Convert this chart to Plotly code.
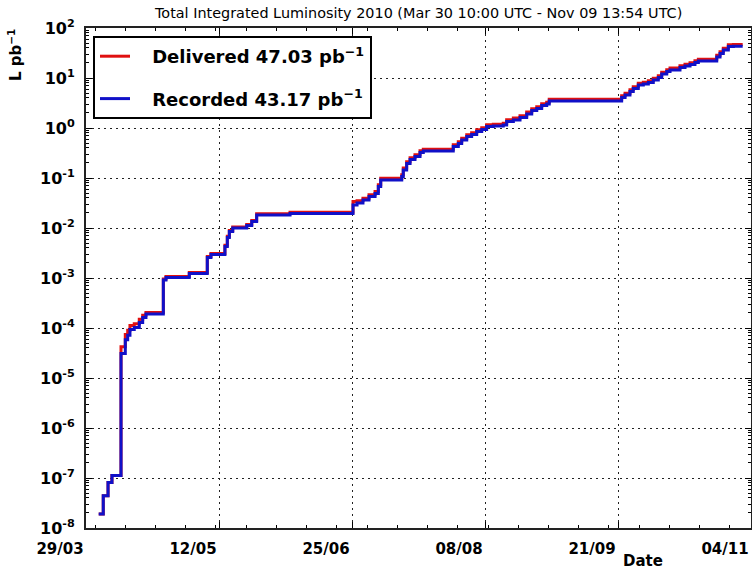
import plotly.graph_objects as go

# Step times (UTC) at which the integrated luminosity changes
dates = [
    "2010-04-02 05:00", "2010-04-03 17:00", "2010-04-05 07:00", "2010-04-06 14:00",
    "2010-04-09 14:00", "2010-04-11 00:00", "2010-04-11 19:00", "2010-04-12 13:00",
    "2010-04-13 23:00", "2010-04-15 15:00", "2010-04-16 18:00", "2010-04-17 20:00",
    "2010-04-23 14:00", "2010-04-24 11:00", "2010-05-02 04:00", "2010-05-08 03:00",
    "2010-05-09 08:00", "2010-05-13 23:00", "2010-05-14 18:00", "2010-05-15 10:00",
    "2010-05-16 13:00", "2010-05-21 04:00", "2010-05-22 20:00", "2010-05-24 11:00",
    "2010-06-04 12:00", "2010-06-25 08:00", "2010-06-26 16:00", "2010-06-28 15:00",
    "2010-06-30 15:00", "2010-07-02 15:00", "2010-07-03 17:00", "2010-07-04 12:00",
    "2010-07-11 11:00", "2010-07-11 23:00", "2010-07-13 02:00", "2010-07-14 05:00",
    "2010-07-15 20:00", "2010-07-17 12:00", "2010-07-18 14:00", "2010-07-28 12:00",
    "2010-07-30 04:00", "2010-07-31 07:00", "2010-08-01 23:00", "2010-08-03 14:00",
    "2010-08-05 06:00", "2010-08-06 22:00", "2010-08-08 13:00", "2010-08-10 18:00",
    "2010-08-14 01:00", "2010-08-15 04:00", "2010-08-17 09:00", "2010-08-19 14:00",
    "2010-08-21 19:00", "2010-08-23 11:00", "2010-08-25 03:00", "2010-08-26 18:00",
    "2010-08-28 10:00", "2010-08-29 06:00", "2010-09-22 05:00", "2010-09-23 08:00",
    "2010-09-24 23:00", "2010-09-26 01:00", "2010-09-27 17:00", "2010-09-29 09:00",
    "2010-10-01 01:00", "2010-10-02 16:00", "2010-10-04 08:00", "2010-10-05 11:00",
    "2010-10-07 03:00", "2010-10-08 05:00", "2010-10-11 12:00", "2010-10-13 04:00",
    "2010-10-14 20:00", "2010-10-16 11:00", "2010-10-17 14:00", "2010-10-23 16:00",
    "2010-10-24 18:00", "2010-10-25 20:00", "2010-10-27 12:00", "2010-10-29 04:00",
    "2010-11-01 06:00",
]

# Integrated luminosity, pb^-1
recorded = [
    1.9e-8, 4.4e-8, 8.1e-8, 1.12e-7,
    3.1e-5, 5.8e-5, 7.2e-5, 9.3e-5,
    1.02e-4, 1.29e-4, 1.62e-4, 1.9e-4,
    9.1e-4, 1.02e-3, 1.23e-3, 2.57e-3,
    2.95e-3, 4.27e-3, 6.46e-3, 8.5e-3,
    1.0e-2, 1.12e-2, 1.35e-2, 1.82e-2,
    1.95e-2, 2.88e-2, 3.16e-2, 3.63e-2,
    4.27e-2, 4.9e-2, 6.76e-2, 9.12e-2,
    0.107, 0.145, 0.195, 0.234,
    0.269, 0.324, 0.347, 0.427,
    0.49, 0.575, 0.676, 0.741,
    0.851, 0.933, 1.07, 1.10,
    1.15, 1.35, 1.45, 1.62,
    1.91, 2.24, 2.45, 2.82,
    3.02, 3.47, 4.07, 4.57,
    5.37, 6.17, 7.24, 7.59,
    8.13, 9.12, 10.2, 12.0,
    13.5, 14.5, 16.2, 17.4,
    18.6, 20.4, 21.9, 26.3,
    30.9, 36.3, 42.7, 43.17,
    43.17,
]

delivered = [
    1.9e-8, 4.4e-8, 8.1e-8, 1.12e-7,
    4.2e-5, 7.4e-5, 9.0e-5, 1.12e-4,
    1.22e-4, 1.5e-4, 1.8e-4, 2.05e-4,
    9.6e-4, 1.07e-3, 1.29e-3, 2.7e-3,
    3.1e-3, 4.5e-3, 6.8e-3, 8.9e-3,
    1.05e-2, 1.18e-2, 1.42e-2, 1.92e-2,
    2.06e-2, 3.4e-2, 3.5e-2, 3.95e-2,
    4.65e-2, 5.35e-2, 7.35e-2, 9.9e-2,
    0.116, 0.158, 0.212, 0.254,
    0.292, 0.352, 0.377, 0.465,
    0.533, 0.625, 0.735, 0.805,
    0.925, 1.01, 1.16, 1.19,
    1.25, 1.47, 1.58, 1.76,
    2.08, 2.44, 2.67, 3.07,
    3.29, 3.78, 4.43, 4.97,
    5.84, 6.71, 7.87, 8.26,
    8.85, 9.93, 11.1, 13.1,
    14.7, 15.8, 17.6, 18.9,
    20.2, 22.2, 23.8, 28.6,
    33.6, 39.5, 46.5, 47.03,
    47.03,
]

x_tick_dates = ["2010-03-29", "2010-05-12", "2010-06-25", "2010-08-08", "2010-09-21", "2010-11-04"]
x_tick_labels = ["29/03", "12/05", "25/06", "08/08", "21/09", "04/11"]
y_exponents = [-8, -7, -6, -5, -4, -3, -2, -1, 0, 1, 2]

title_text = "Total Integrated Luminosity 2010 (Mar 30 10:00 UTC - Nov 09 13:54 UTC)"
delivered_label = "Delivered 47.03 pb<sup>−1</sup>"
recorded_label = "Recorded 43.17 pb<sup>−1</sup>"

FONT = "DejaVu Sans"
NB = "\u00a0\u00a0\u00a0"

W, H = 752, 571
ML, MR, MT, MB = 86, 1, 28, 43
PW = W - ML - MR
PH = H - MT - MB


def px_to_paper(px, py):
    return (px - ML) / PW, 1 - (py - MT) / PH


fig = go.Figure()
fig.add_trace(go.Scatter(
    x=dates, y=delivered, mode="lines", line=dict(color="#e01010", width=3, shape="hv"),
    name=NB + "<b>" + delivered_label + "</b>", legendgroup="d",
))
fig.add_trace(go.Scatter(
    x=dates, y=recorded, mode="lines", line=dict(color="#1010c8", width=3, shape="hv"),
    name=NB + "<b>" + recorded_label + "</b>", legendgroup="r",
))

yvals = [10.0 ** e for e in y_exponents]
ytext = ["<b>10<sup>%d</sup></b>" % e for e in y_exponents]
yminor = [m * 10.0 ** e for e in y_exponents[:-1] for m in range(2, 10)]

grid_dash = "2px,4px"

tx, ty = px_to_paper(418, 13)
lx, ly = px_to_paper(15, 55)
dx, dy = px_to_paper(643, 561)
gx, gy = px_to_paper(93, 36)

fig.update_layout(
    width=W, height=H,
    margin=dict(l=ML, r=MR, t=MT, b=MB, pad=0),
    paper_bgcolor="white", plot_bgcolor="white",
    font=dict(family=FONT, color="black"),
    showlegend=True,
    legend=dict(
        x=gx, y=gy, xanchor="left", yanchor="top",
        bgcolor="white", bordercolor="black", borderwidth=2,
        font=dict(family=FONT, size=18, color="black"),
        traceorder="grouped", tracegroupgap=16,
    ),
    annotations=[
        dict(text=title_text, x=tx, y=ty, xref="paper", yref="paper", showarrow=False,
             xanchor="center", yanchor="middle",
             font=dict(family=FONT, size=14.4, color="black")),
        dict(text="<b>L pb<sup>−1</sup></b>", x=lx, y=ly, xref="paper", yref="paper",
             textangle=-90, showarrow=False, xanchor="center", yanchor="middle",
             font=dict(family=FONT, size=15, color="black")),
        dict(text="<b>Date</b>", x=dx, y=dy, xref="paper", yref="paper", showarrow=False,
             xanchor="center", yanchor="middle",
             font=dict(family=FONT, size=15, color="black")),
    ],
)

fig.update_xaxes(
    type="date", range=["2010-03-29", "2010-11-04"], automargin=False,
    tickmode="array", tickvals=x_tick_dates, ticktext=["<b>%s</b>" % t for t in x_tick_labels],
    tickfont=dict(family=FONT, size=15, color="black"),
    ticks="inside", ticklen=6, tickwidth=1, tickcolor="black",
    showline=True, linecolor="#222222", linewidth=2, mirror="ticks",
    showgrid=True, gridcolor="#222222", gridwidth=1, griddash=grid_dash,
    ticklabelshift=-26, ticklabelstandoff=6,
    minor=dict(ticks="inside", ticklen=3, tickcolor="black", dtick=10 * 86400000,
               tick0="2010-04-01", showgrid=False),
    zeroline=False,
)
fig.update_yaxes(
    type="log", range=[-8, 2], automargin=False,
    tickmode="array", tickvals=yvals, ticktext=ytext,
    tickfont=dict(family=FONT, size=16, color="black"),
    ticks="inside", ticklen=6, tickwidth=1, tickcolor="black",
    showline=True, linecolor="#222222", linewidth=2, mirror="ticks",
    showgrid=True, gridcolor="#222222", gridwidth=1, griddash=grid_dash,
    ticklabelstandoff=6,
    minor=dict(ticks="inside", ticklen=3, tickcolor="black", tickmode="array",
               tickvals=yminor, showgrid=False),
    zeroline=False,
)

fig.write_html(
    "out.html",
    config={"displayModeBar": False},
    post_script="document.body.style.margin='0px';document.body.style.overflow='hidden';",
)
